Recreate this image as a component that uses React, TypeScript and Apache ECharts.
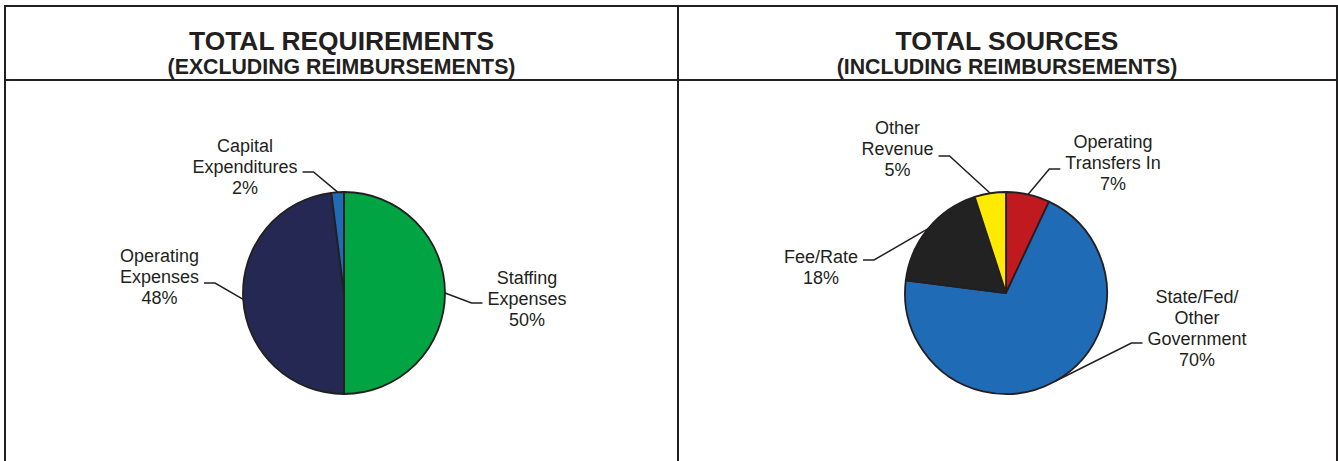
import React, { useEffect, useRef } from 'react';
import * as echarts from 'echarts';

// ---- data ----
const reqNames = ['Staffing\nExpenses', 'Operating\nExpenses', 'Capital\nExpenditures'];
const reqValues = [50, 48, 2];
const reqColors = ['#00A443', '#242853', '#1F6BB5'];

const srcNames = ['Operating\nTransfers In', 'State/Fed/\nOther\nGovernment', 'Fee/Rate', 'Other\nRevenue'];
const srcValues = [7, 70, 18, 5];
const srcColors = ['#C0191F', '#1F6BB5', '#222222', '#FFEA00'];

const titles = ['TOTAL REQUIREMENTS', 'TOTAL SOURCES'];
const subtitles = ['(EXCLUDING REIMBURSEMENTS)', '(INCLUDING REIMBURSEMENTS)'];

// ---- layout (positions only) ----
const INK = '#231F20';
const FONT = '"Liberation Sans", Arial, sans-serif';
const GAP = 5;
const LEN2 = 11;

// label block centres, which side of the label the leader attaches to (-1 left, +1 right), attach offset
const reqLabelPos = [[527, 299], [159.5, 277], [245, 167]];
const reqSide = [-1, 1, 1];
const reqDy = [4, 6, 5];

const srcLabelPos = [[1113, 163], [1197, 328], [821, 267], [897.5, 149]];
const srcSide = [-1, -1, 1, 1];
const srcDy = [6, 15, -7, 7];

function makeLayout(pos: number[][], side: number[], dy: number[]) {
  return (params: any) => {
    const i = params.dataIndex;
    const [cx, cy] = pos[i];
    const w = params.labelRect.width;
    const s = side[i];
    const ey = cy + dy[i];
    const ex = cx + s * (w / 2 + GAP);
    const mx = ex + s * LEN2;
    const start = params.labelLinePoints && params.labelLinePoints[0] ? params.labelLinePoints[0] : [mx, ey];
    return {
      x: cx,
      y: cy,
      align: 'center',
      verticalAlign: 'middle',
      labelLinePoints: [start, [mx, ey], [ex, ey]],
    };
  };
}

function pieSeries(names: string[], values: number[], colors: string[], center: number[], layout: any) {
  return {
    type: 'pie',
    center,
    radius: 101,
    startAngle: 90,
    clockwise: true,
    avoidLabelOverlap: false,
    data: names.map((n, i) => ({ name: n, value: values[i], itemStyle: { color: colors[i] } })),
    itemStyle: { borderColor: INK, borderWidth: 1.8 },
    label: {
      show: true,
      position: 'outside',
      formatter: (p: any) => `${p.name}\n${Math.round(p.percent)}%`,
      fontFamily: FONT,
      fontSize: 18,
      lineHeight: 21,
      color: INK,
      align: 'center',
      overflow: 'none',
    },
    labelLine: { show: true, length: 15, length2: 10, lineStyle: { color: INK, width: 1.5 } },
    labelLayout: layout,
    emphasis: { disabled: true },
  };
}

export default function App() {
  const ref = useRef<HTMLDivElement>(null);
  useEffect(() => {
    if (!ref.current) return;
    const chart = echarts.init(ref.current, null, { renderer: 'svg' });
    const line = (x1: number, y1: number, x2: number, y2: number) => ({
      type: 'line',
      shape: { x1, y1, x2, y2 },
      style: { stroke: INK, lineWidth: 2 },
      silent: true,
    });
    const text = (t: string, x: number, y: number, size: number) => ({
      type: 'text',
      x,
      y,
      style: {
        text: t,
        fontFamily: FONT,
        fontSize: size,
        fontWeight: 'bold',
        fill: INK,
        align: 'center',
        verticalAlign: 'middle',
      },
      silent: true,
    });
    chart.setOption({
      animation: false,
      backgroundColor: '#ffffff',
      graphic: [
        line(4, 6, 1338, 6),
        line(5, 5, 5, 461),
        line(678, 5, 678, 461),
        line(1337, 5, 1337, 461),
        line(4, 80, 1338, 80),
        text(titles[0], 341.5, 41, 26.4),
        text(subtitles[0], 341.5, 67, 21.3),
        text(titles[1], 1007, 41, 26.4),
        text(subtitles[1], 1007, 67, 21.3),
      ],
      series: [
        pieSeries(reqNames, reqValues, reqColors, [344, 293], makeLayout(reqLabelPos, reqSide, reqDy)),
        pieSeries(srcNames, srcValues, srcColors, [1006, 293], makeLayout(srcLabelPos, srcSide, srcDy)),
      ],
    });
    return () => chart.dispose();
  }, []);
  return (
    <div
      ref={ref}
      style={{ position: 'absolute', left: 0, top: 0, width: 1338, height: 461, background: '#fff' }}
    />
  );
}
